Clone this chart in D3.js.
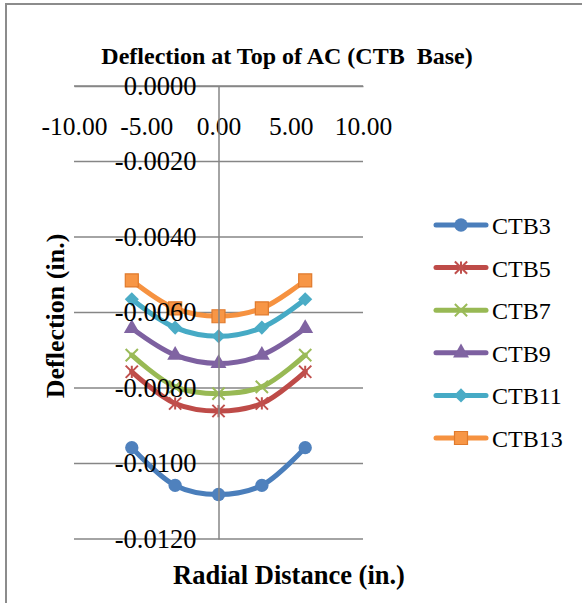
<html>
<head>
<meta charset="utf-8">
<script src="https://cdn.jsdelivr.net/npm/d3@7"></script>
<style>
body { margin: 0; background: #fff; }
svg text { font-family: "Liberation Serif", "Times New Roman", serif; fill: #000; white-space: pre; }
</style>
</head>
<body>
<svg id="chart" width="582" height="603"></svg>
<script>
// data (radial distance in inches, deflection in inches)
var radial = [-6, -3, 0, 3, 6];
var ctb3  = [-0.00958, -0.01058, -0.01082, -0.01058, -0.00958];
var ctb5  = [-0.00757, -0.00841, -0.00861, -0.00841, -0.00757];
var ctb7  = [-0.00713, -0.00797, -0.00815, -0.00797, -0.00713];
var ctb9  = [-0.00642, -0.00713, -0.00735, -0.00713, -0.00642];
var ctb11 = [-0.00565, -0.00640, -0.00663, -0.00640, -0.00565];
var ctb13 = [-0.00515, -0.00589, -0.00610, -0.00589, -0.00515];
var seriesNames = ["CTB3", "CTB5", "CTB7", "CTB9", "CTB11", "CTB13"];
var xTicks = [-10, -5, 0, 5, 10];
var yTicks = [0, -0.002, -0.004, -0.006, -0.008, -0.010, -0.012];

var seriesValues = [ctb3, ctb5, ctb7, ctb9, ctb11, ctb13];
var lineColors = ["#4A7EBB", "#BE4B48", "#98B954", "#7D60A0", "#46AAC5", "#F69240"];
var markColors = ["#4F81BD", "#C0504D", "#9BBB59", "#8064A2", "#4BACC6", "#F79646"];

var svg = d3.select("#chart");
var plot = {left: 74, right: 363, top: 86, bottom: 539};

var x = d3.scaleLinear().domain([-10, 10]).range([plot.left, plot.right]);
var y = d3.scaleLinear().domain([0, -0.012]).range([plot.top, plot.bottom]);

var loc = d3.formatLocale({decimal: ".", thousands: ",", grouping: [3], currency: ["$", ""], minus: "-"});

// outer frame (left and top edge only visible)
svg.append("path")
    .attr("d", "M6,603V4H582")
    .attr("fill", "none")
    .attr("stroke", "#8c8c8c")
    .attr("stroke-width", 2);

// horizontal gridlines
svg.append("g").selectAll("line")
    .data(yTicks)
    .join("line")
    .attr("x1", plot.left)
    .attr("x2", plot.right)
    .attr("y1", d => y(d))
    .attr("y2", d => y(d))
    .attr("stroke", "#868686")
    .attr("stroke-width", 1.5);

// custom marker shapes
var starSym = {draw: function(ctx, s) {
    var r = Math.sqrt(s) / 2;
    ctx.moveTo(-r, -r); ctx.lineTo(r, r);
    ctx.moveTo(-r, r); ctx.lineTo(r, -r);
    ctx.moveTo(0, -r); ctx.lineTo(0, r);
}};
var xSym = {draw: function(ctx, s) {
    var r = Math.sqrt(s) / 2;
    ctx.moveTo(-r, -r); ctx.lineTo(r, r);
    ctx.moveTo(-r, r); ctx.lineTo(r, -r);
}};
var diamondSym = {draw: function(ctx, s) {
    var r = Math.sqrt(s) / 2;
    ctx.moveTo(0, -r); ctx.lineTo(r, 0); ctx.lineTo(0, r); ctx.lineTo(-r, 0); ctx.closePath();
}};
var markers = [
    {type: d3.symbolCircle, size: 140, stroked: false},
    {type: starSym, size: 150, stroked: true},
    {type: xSym, size: 150, stroked: true},
    {type: d3.symbolTriangle, size: 110, stroked: false},
    {type: diamondSym, size: 200, stroked: false},
    {type: d3.symbolSquare, size: 169, stroked: false}
];

function drawMarker(g, i, cx, cy) {
    var m = markers[i];
    var p = g.append("path")
        .attr("d", d3.symbol().type(m.type).size(m.size)())
        .attr("transform", "translate(" + cx + "," + cy + ")");
    if (m.stroked) {
        p.attr("fill", "none").attr("stroke", markColors[i]).attr("stroke-width", 2);
    } else if (i == 5) {
        p.attr("fill", markColors[i]).attr("stroke", "#E07A2C").attr("stroke-width", 1.2);
    } else {
        p.attr("fill", markColors[i]);
    }
}

var line = d3.line()
    .x((d, k) => x(radial[k]))
    .y(d => y(d))
    .curve(d3.curveCatmullRom.alpha(0.5));

var seriesG = svg.append("g");
seriesValues.forEach(function(vals, i) {
    var g = seriesG.append("g");
    g.append("path")
        .attr("d", line(vals))
        .attr("fill", "none")
        .attr("stroke", lineColors[i])
        .attr("stroke-width", 5)
        .attr("stroke-linejoin", "round")
        .attr("stroke-linecap", "round");
    vals.forEach(function(v, k) {
        drawMarker(g, i, x(radial[k]), y(v));
    });
});

// x axis along y = 0
var xAxis = svg.append("g")
    .attr("transform", "translate(0," + y(0) + ")")
    .call(d3.axisBottom(x).tickValues(xTicks).tickFormat(loc.format(".2f"))
        .tickSize(0).tickSizeOuter(0).tickPadding(31));
xAxis.select(".domain").attr("stroke", "#868686").attr("stroke-width", 1.5);
xAxis.selectAll("text").attr("font-size", 25.5).attr("font-family", "Liberation Serif");

// y axis along x = 0
var yAxis = svg.append("g")
    .attr("transform", "translate(" + x(0) + ",0)")
    .call(d3.axisLeft(y).tickValues(yTicks).tickFormat(loc.format(".4f"))
        .tickSize(0).tickSizeOuter(0).tickPadding(22));
yAxis.select(".domain").attr("stroke", "#868686").attr("stroke-width", 1.5);
yAxis.selectAll("text").attr("font-size", 26.5).attr("font-family", "Liberation Serif");

// titles
svg.append("text")
    .attr("x", 287).attr("y", 64)
    .attr("text-anchor", "middle")
    .attr("font-size", 24).attr("font-weight", "bold")
    .text("Deflection at Top of AC (CTB  Base)");

svg.append("text")
    .attr("x", 289).attr("y", 584)
    .attr("text-anchor", "middle")
    .attr("font-size", 26.5).attr("font-weight", "bold")
    .text("Radial Distance (in.)");

svg.append("text")
    .attr("transform", "translate(64,316) rotate(-90)")
    .attr("text-anchor", "middle")
    .attr("font-size", 26).attr("font-weight", "bold")
    .text("Deflection (in.)");

// legend
var legend = svg.append("g");
seriesNames.forEach(function(name, i) {
    var ly = 225 + i * 42.6;
    legend.append("line")
        .attr("x1", 436).attr("x2", 486)
        .attr("y1", ly).attr("y2", ly)
        .attr("stroke", lineColors[i])
        .attr("stroke-width", 5)
        .attr("stroke-linecap", "round");
    drawMarker(legend, i, 461, ly);
    legend.append("text")
        .attr("x", 492).attr("y", ly + 9)
        .attr("font-size", 24)
        .text(name);
});
</script>
</body>
</html>
